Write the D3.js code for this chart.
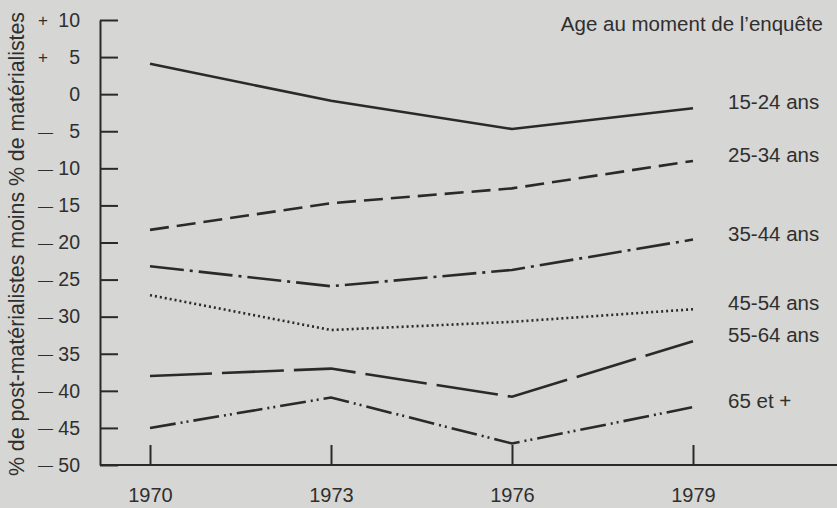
<!DOCTYPE html>
<html>
<head>
<meta charset="utf-8">
<script src="https://cdn.jsdelivr.net/npm/d3@7"></script>
<style>
  html, body { margin: 0; padding: 0; background: #d6d6d4; }
  svg { display: block; font-family: "Liberation Sans", Arial, Helvetica, sans-serif; }
</style>
</head>
<body>
<div id="vis"></div>
<script>
// survey years
var years = [1970, 1973, 1976, 1979];

// age groups (legend labels)
var ageGroups = ["15-24 ans", "25-34 ans", "35-44 ans", "45-54 ans", "55-64 ans", "65 et +"];

// % post-materialists minus % materialists, one array per age group
var age15_24 = [4.1, -0.9, -4.7, -1.9];
var age25_34 = [-18.3, -14.7, -12.7, -9.0];
var age35_44 = [-23.2, -25.9, -23.7, -19.6];
var age45_54 = [-27.1, -31.8, -30.7, -29.0];
var age55_64 = [-38.0, -37.0, -40.8, -33.3];
var age65_plus = [-45.0, -40.9, -47.1, -42.2];

var yTicks = [10, 5, 0, -5, -10, -15, -20, -25, -30, -35, -40, -45, -50];

var series = [age15_24, age25_34, age35_44, age45_54, age55_64, age65_plus];

// line styles per age group
var dashes = ["none", "19,8", "34,6,3,6", "2,3", "62,10", "26,5,2,4,2,5"];

var width = 837,
    height = 508;

var ink = "#2a2a2a",
    textCol = "#2f2f2f";

var margin = {top: 20, left: 100, bottom: 43};

var svg = d3.select("#vis")
  .append("svg")
  .attr("width", width)
  .attr("height", height);

var x = d3.scaleLinear().domain([1970, 1979]).range([150, 693]);
var y = d3.scaleLinear().domain([-50, 10]).range([height - margin.bottom, margin.top]);

// y axis, ticks pointing inward
var yAxis = svg.append("g")
  .attr("transform", "translate(" + margin.left + ",0)")
  .call(d3.axisLeft(y)
    .tickValues(yTicks)
    .tickSizeInner(-18)
    .tickSizeOuter(0)
    .tickPadding(20)
    .tickFormat(function(d) { return Math.abs(d); }));

yAxis.selectAll("path, line")
  .attr("stroke", ink)
  .attr("stroke-width", 2);
yAxis.selectAll("text")
  .attr("fill", textCol)
  .style("font-size", "19.5px");

// signs drawn in their own column
yAxis.selectAll(".tick")
  .filter(function(d) { return d !== 0; })
  .append("text")
  .attr("x", -62)
  .attr("dy", "0.32em")
  .attr("text-anchor", "start")
  .attr("fill", textCol)
  .style("font-size", function(d) { return d > 0 ? "17px" : "15px"; })
  .text(function(d) { return d > 0 ? "+" : "—"; });

// x axis, ticks pointing up
var xAxis = svg.append("g")
  .attr("transform", "translate(0," + y(-50) + ")")
  .call(d3.axisBottom(x)
    .tickValues(years)
    .tickSizeInner(-20)
    .tickSizeOuter(0)
    .tickPadding(23)
    .tickFormat(d3.format("d")));

xAxis.select(".domain").remove();
xAxis.append("line")
  .attr("x1", margin.left)
  .attr("x2", width)
  .attr("stroke", ink)
  .attr("stroke-width", 2);
xAxis.selectAll(".tick line")
  .attr("stroke", ink)
  .attr("stroke-width", 2);
xAxis.selectAll("text")
  .attr("fill", textCol)
  .style("font-size", "20px");

// y axis title
svg.append("text")
  .attr("transform", "translate(24," + 244 + ") rotate(-90)")
  .attr("text-anchor", "middle")
  .attr("fill", textCol)
  .style("font-size", "21.3px")
  .text("% de post-matérialistes moins % de matérialistes");

// lines
var line = d3.line()
  .x(function(d, i) { return x(years[i]); })
  .y(function(d) { return y(d); });

svg.selectAll(".age-line")
  .data(series)
  .enter().append("path")
  .attr("class", "age-line")
  .attr("d", line)
  .attr("fill", "none")
  .attr("stroke", ink)
  .attr("stroke-width", 2.6)
  .attr("stroke-dasharray", function(d, i) { return dashes[i]; });

// labels at the end of each line
svg.selectAll(".age-label")
  .data(series)
  .enter().append("text")
  .attr("class", "age-label")
  .attr("x", x(1979) + 35)
  .attr("y", function(d) { return y(d[d.length - 1]) + 1; })
  .attr("fill", textCol)
  .style("font-size", "20.5px")
  .text(function(d, i) { return ageGroups[i]; });

// legend title
svg.append("text")
  .attr("x", width - 14)
  .attr("y", 31)
  .attr("text-anchor", "end")
  .attr("fill", textCol)
  .style("font-size", "20.5px")
  .text("Age au moment de l’enquête");
</script>
</body>
</html>
